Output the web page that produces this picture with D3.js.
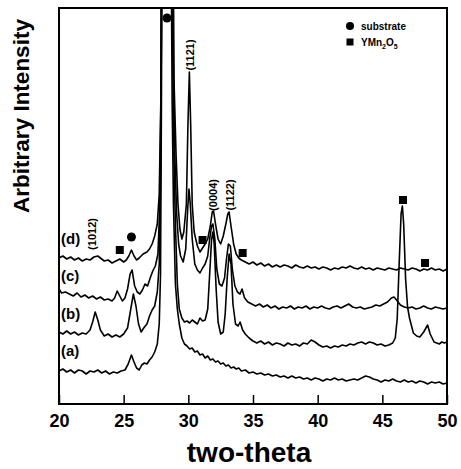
<!DOCTYPE html>
<html>
<head>
<meta charset="utf-8">
<script src="https://cdn.jsdelivr.net/npm/d3@7"></script>
<style>
  body { margin: 0; background: #fff; }
  text { font-family: "Liberation Sans", Arial, sans-serif; }
</style>
</head>
<body>
<div id="chart"></div>
<script>
// XRD patterns, [two-theta, intensity] (arbitrary units)
const traceA = [[20.0,33],[20.3,35],[20.6,32],[20.9,34],[21.2,31],[21.5,34],[21.8,33],[22.1,30],[22.4,33],[22.7,32],[23.0,34],[23.3,31],[23.6,33],[23.9,30],[24.2,32],[24.5,31],[24.8,33],[25.1,34],[25.35,40],[25.6,49],[25.8,42],[26.0,36],[26.2,34],[26.4,39],[26.6,41],[26.8,40],[27.0,44],[27.2,47],[27.4,52],[27.6,60],[27.75,80],[27.85,130],[27.92,300],[28.0,600],[28.6,600],[28.75,300],[28.85,200],[29.0,120],[29.15,95],[29.3,80],[29.5,66],[29.7,60],[29.9,58],[30.1,55],[30.3,56],[30.5,52],[30.7,53],[30.9,49],[31.1,50],[31.3,46],[31.5,48],[31.7,44],[31.9,45],[32.1,42],[32.3,43],[32.5,40],[32.7,41],[32.9,38],[33.1,39],[33.3,36],[33.5,37],[33.7,35],[33.9,36],[34.1,33],[34.4,34],[34.7,31],[35.0,32],[35.3,30],[35.6,31],[35.9,29],[36.2,30],[36.5,28],[36.8,29],[37.1,27],[37.4,28],[37.7,26],[38.0,28],[38.3,26],[38.6,27],[38.9,25],[39.2,26],[39.5,24],[39.8,26],[40.1,25],[40.4,23],[40.7,25],[41.0,24],[41.3,26],[41.6,24],[41.9,25],[42.2,23],[42.5,24],[42.8,25],[43.1,24],[43.4,26],[43.7,28],[44.0,27],[44.3,25],[44.6,24],[44.9,22],[45.2,24],[45.5,23],[45.8,25],[46.1,23],[46.4,22],[46.7,24],[47.0,22],[47.3,23],[47.6,21],[47.9,23],[48.2,22],[48.5,20],[48.8,22],[49.1,21],[49.4,22],[49.7,20],[50.0,21]];

const traceB = [[20.0,72],[20.3,70],[20.6,73],[20.9,70],[21.2,72],[21.5,69],[21.8,71],[22.1,70],[22.4,74],[22.6,82],[22.8,92],[23.0,84],[23.2,74],[23.5,68],[23.8,70],[24.1,67],[24.4,69],[24.7,67],[25.0,70],[25.3,76],[25.55,95],[25.75,110],[25.95,98],[26.15,80],[26.35,72],[26.55,76],[26.8,80],[27.0,88],[27.2,94],[27.4,98],[27.6,112],[27.75,140],[27.85,220],[27.93,400],[28.0,600],[28.65,600],[28.8,350],[28.9,240],[29.0,180],[29.15,120],[29.3,95],[29.5,86],[29.7,82],[29.9,83],[30.1,81],[30.3,84],[30.5,82],[30.7,80],[30.9,86],[31.1,83],[31.3,84],[31.5,95],[31.65,130],[31.8,165],[31.9,172],[32.0,160],[32.15,115],[32.3,82],[32.5,70],[32.7,72],[32.85,90],[33.0,125],[33.15,150],[33.3,140],[33.45,100],[33.65,80],[33.85,78],[34.0,82],[34.2,74],[34.4,70],[34.7,66],[35.0,63],[35.3,61],[35.6,63],[35.9,60],[36.2,62],[36.5,59],[36.8,61],[37.1,60],[37.4,58],[37.7,61],[38.0,59],[38.3,60],[38.6,58],[38.9,61],[39.2,60],[39.5,64],[39.8,62],[40.1,59],[40.4,57],[40.7,58],[41.0,56],[41.3,58],[41.6,57],[41.9,59],[42.2,58],[42.5,60],[42.8,59],[43.1,61],[43.4,62],[43.7,60],[44.0,62],[44.3,61],[44.6,59],[44.9,60],[45.2,58],[45.5,59],[45.8,61],[46.0,66],[46.15,85],[46.3,140],[46.45,190],[46.55,198],[46.65,180],[46.8,125],[46.95,97],[47.1,86],[47.4,71],[47.65,68],[47.9,67],[48.2,72],[48.5,79],[48.7,70],[49.0,62],[49.2,61],[49.4,60],[49.6,62],[49.8,61],[50.0,62]];

const traceC = [[20.0,115],[20.2,111],[20.5,112],[20.8,110],[21.1,108],[21.4,111],[21.7,107],[22.0,109],[22.3,106],[22.6,108],[22.9,105],[23.2,107],[23.5,104],[23.8,105],[24.1,103],[24.3,106],[24.5,113],[24.7,108],[24.9,103],[25.1,106],[25.3,115],[25.5,130],[25.65,134],[25.85,118],[26.05,112],[26.25,110],[26.45,114],[26.65,120],[26.85,118],[27.05,126],[27.25,133],[27.45,138],[27.65,150],[27.8,200],[27.9,330],[27.97,600],[28.7,600],[28.85,330],[28.95,250],[29.1,190],[29.25,160],[29.4,148],[29.6,142],[29.8,155],[29.95,195],[30.05,215],[30.15,200],[30.3,165],[30.5,140],[30.7,134],[30.9,131],[31.1,136],[31.3,140],[31.5,148],[31.65,165],[31.8,178],[31.9,180],[32.05,165],[32.2,135],[32.4,120],[32.6,118],[32.8,126],[32.95,145],[33.1,160],[33.25,158],[33.4,135],[33.6,118],[33.8,112],[34.0,110],[34.15,115],[34.35,106],[34.6,102],[34.9,100],[35.2,98],[35.5,100],[35.8,97],[36.1,99],[36.4,96],[36.7,98],[37.0,95],[37.3,97],[37.6,96],[37.9,98],[38.2,95],[38.5,97],[38.8,96],[39.1,98],[39.4,95],[39.7,97],[40.0,96],[40.3,98],[40.6,96],[40.9,95],[41.2,97],[41.5,98],[41.8,96],[42.1,98],[42.4,100],[42.7,97],[43.0,96],[43.3,97],[43.6,95],[43.9,96],[44.2,97],[44.5,99],[44.8,98],[45.1,100],[45.4,102],[45.7,106],[45.9,107],[46.1,104],[46.4,99],[46.7,97],[47.0,96],[47.3,97],[47.6,95],[47.9,96],[48.2,98],[48.5,96],[48.8,95],[49.1,97],[49.4,96],[49.7,95],[50.0,96]];

const traceD = [[20.0,146],[20.3,148],[20.6,145],[20.9,147],[21.2,144],[21.5,146],[21.8,143],[22.1,145],[22.4,144],[22.7,147],[23.0,148],[23.2,146],[23.5,143],[23.8,144],[24.1,141],[24.4,143],[24.7,145],[25.0,142],[25.2,144],[25.4,148],[25.6,154],[25.8,148],[26.0,144],[26.2,146],[26.5,150],[26.8,152],[27.0,155],[27.2,160],[27.4,168],[27.6,180],[27.75,210],[27.87,300],[27.95,600],[28.75,600],[28.9,320],[29.05,250],[29.2,200],[29.35,175],[29.5,165],[29.65,172],[29.85,200],[29.97,280],[30.08,332],[30.18,280],[30.3,200],[30.45,172],[30.7,158],[30.9,152],[31.1,156],[31.3,160],[31.5,165],[31.7,178],[31.85,192],[31.95,193],[32.1,180],[32.3,165],[32.5,160],[32.7,168],[32.9,180],[33.05,190],[33.15,192],[33.3,178],[33.5,160],[33.7,150],[33.9,146],[34.1,144],[34.4,142],[34.7,140],[35.0,142],[35.3,139],[35.6,141],[35.9,138],[36.2,140],[36.5,137],[36.8,139],[37.1,137],[37.4,139],[37.7,138],[38.0,136],[38.3,139],[38.6,137],[38.9,136],[39.2,138],[39.5,136],[39.8,137],[40.1,135],[40.4,137],[40.7,136],[41.0,134],[41.3,136],[41.6,135],[41.9,137],[42.2,136],[42.5,138],[42.8,136],[43.1,135],[43.4,137],[43.7,135],[44.0,136],[44.3,134],[44.6,136],[44.9,135],[45.2,134],[45.5,136],[45.8,135],[46.1,134],[46.4,136],[46.7,135],[47.0,134],[47.3,136],[47.6,135],[47.9,133],[48.2,135],[48.5,134],[48.8,136],[49.1,134],[49.4,135],[49.7,133],[50.0,135]];

const traceNames = ["(a)", "(b)", "(c)", "(d)"];
const traceLabelY = [48, 85, 123, 160];   // intensity at which each name sits

// phase markers [two-theta, intensity]
const substrateMarks = [[28.35, 386], [25.6, 167]];
const ymn2o5Marks = [[24.7, 154], [31.1, 164], [34.2, 151], [46.6, 204], [48.3, 141]];

// reflection labels [two-theta, intensity, text]
const hklLabels = [[22.55, 170, "(1012)"], [30.13, 349, "(1121)"], [31.92, 209, "(0004)"], [33.22, 209, "(1122)"]];

const xTicks = [20, 25, 30, 35, 40, 45, 50];

const W = 461, H = 469;
const margin = { top: 8, right: 14, bottom: 65, left: 59 },
    width = W - margin.left - margin.right,
    height = H - margin.top - margin.bottom;

const svg = d3.select("#chart")
    .append("svg")
    .attr("width", W)
    .attr("height", H);

const g = svg.append("g")
    .attr("transform", `translate(${margin.left},${margin.top})`);

const x = d3.scaleLinear().domain([20, 50]).range([0, width]);
const y = d3.scaleLinear().domain([0, 396]).range([height, 0]);

g.append("clipPath").attr("id", "plotclip")
    .append("rect").attr("width", width).attr("height", height);

const line = d3.line()
    .x(d => x(d[0]))
    .y(d => y(d[1]));

g.append("g")
    .attr("clip-path", "url(#plotclip)")
    .selectAll("path")
    .data([traceA, traceB, traceC, traceD])
    .join("path")
    .attr("fill", "none")
    .attr("stroke", "#000")
    .attr("stroke-width", 1.6)
    .attr("stroke-linejoin", "round")
    .attr("d", line);

// bottom axis, ticks pointing inward
const xAxis = g.append("g")
    .attr("transform", `translate(0,${height})`)
    .call(d3.axisBottom(x).tickValues(xTicks).tickSizeInner(-9).tickSizeOuter(0).tickPadding(10));
xAxis.select(".domain").remove();
xAxis.selectAll("line").attr("stroke-width", 1.5);
xAxis.selectAll("text")
    .attr("font-size", 18)
    .attr("font-weight", "bold")
    .attr("fill", "#000");

// frame
g.append("rect")
    .attr("width", width)
    .attr("height", height)
    .attr("fill", "none")
    .attr("stroke", "#000")
    .attr("stroke-width", 2);

// markers
g.selectAll(".sub")
    .data(substrateMarks)
    .join("circle")
    .attr("cx", d => x(d[0]))
    .attr("cy", d => y(d[1]))
    .attr("r", 4.5)
    .attr("fill", "#000");

g.selectAll(".ymn")
    .data(ymn2o5Marks)
    .join("rect")
    .attr("x", d => x(d[0]) - 4)
    .attr("y", d => y(d[1]) - 4)
    .attr("width", 8)
    .attr("height", 8)
    .attr("fill", "#000");

// reflection labels, rotated
g.selectAll(".hkl")
    .data(hklLabels)
    .join("text")
    .attr("transform", d => `translate(${x(d[0]) + 4},${y(d[1])}) rotate(-90)`)
    .attr("text-anchor", "middle")
    .attr("font-size", 11)
    .attr("font-weight", "bold")
    .text(d => d[2]);

// trace names
g.selectAll(".tname")
    .data(traceNames)
    .join("text")
    .attr("x", 2)
    .attr("y", (d, i) => y(traceLabelY[i]))
    .attr("font-size", 15)
    .attr("font-weight", "bold")
    .text(d => d);

// legend
const leg = g.append("g").attr("transform", `translate(${x(42.5)},${y(378)})`);
leg.append("circle").attr("cx", 0).attr("cy", 0).attr("r", 4).attr("fill", "#000");
leg.append("text").attr("x", 11).attr("y", 4)
    .attr("font-size", 10).attr("font-weight", "bold").text("substrate");
leg.append("rect").attr("x", -3.5).attr("y", 12.5).attr("width", 7).attr("height", 7).attr("fill", "#000");
const t2 = leg.append("text").attr("x", 11).attr("y", 20)
    .attr("font-size", 10).attr("font-weight", "bold");
t2.append("tspan").text("YMn");
t2.append("tspan").attr("font-size", 7).attr("dy", 3).text("2");
t2.append("tspan").attr("dy", -3).text("O");
t2.append("tspan").attr("font-size", 7).attr("dy", 3).text("5");

// axis titles
svg.append("text")
    .attr("x", margin.left + width / 2 - 4)
    .attr("y", 462)
    .attr("text-anchor", "middle")
    .attr("font-size", 28)
    .attr("font-weight", "bold")
    .text("two-theta");

svg.append("text")
    .attr("transform", `translate(29,116) rotate(-90)`)
    .attr("text-anchor", "middle")
    .attr("font-size", 22.5)
    .attr("font-weight", "bold")
    .text("Arbitrary Intensity");
</script>
</body>
</html>
